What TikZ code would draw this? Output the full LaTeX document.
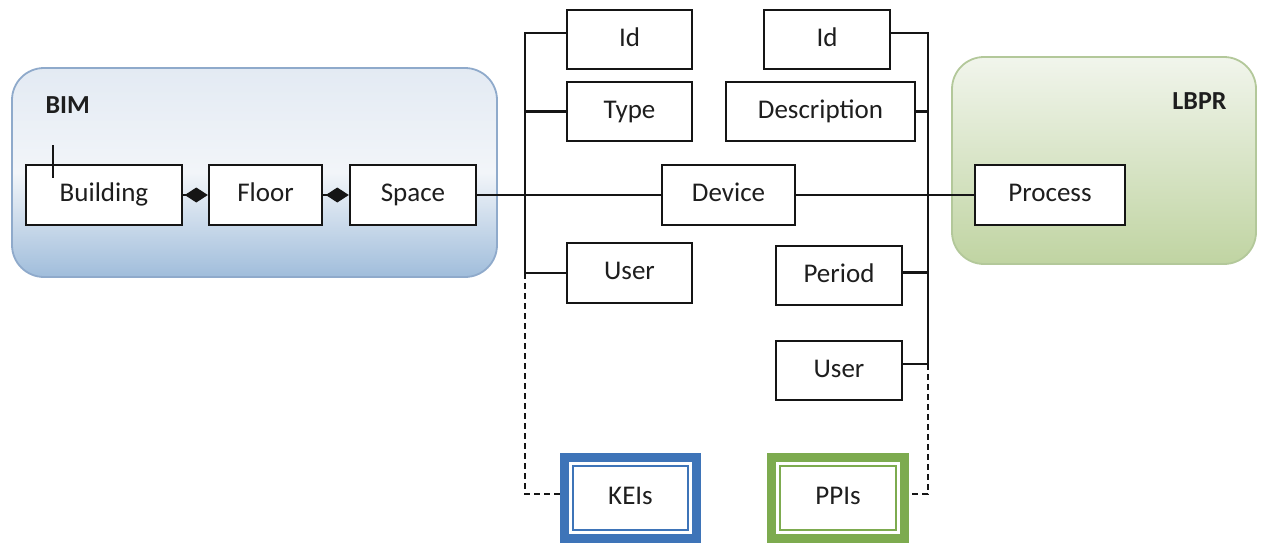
\documentclass[tikz,border=0pt]{standalone}
\usepackage{fontspec}
\setmainfont{Carlito}
\usetikzlibrary{arrows.meta,calc}
\definecolor{bimtop}{HTML}{E3EAF3}
\definecolor{bimmid}{HTML}{F2F5F9}
\definecolor{bimbot}{HTML}{A0BDDB}
\definecolor{bimedge}{HTML}{8FAACB}
\definecolor{lbtop}{HTML}{F1F5EC}
\definecolor{lbbot}{HTML}{C0D4A2}
\definecolor{lbedge}{HTML}{B3C89A}
\definecolor{keiblue}{HTML}{3E74B8}
\definecolor{ppigreen}{HTML}{7DAB4F}
\definecolor{txt}{HTML}{1E1E1E}
\definecolor{ln}{HTML}{151515}
\begin{document}
\begin{tikzpicture}[x=1pt,y=-1pt,
  box/.style={draw=ln,line width=2.4pt,fill=white,rectangle,inner sep=0pt,
    font=\fontsize{27}{30}\selectfont,text=txt,text height=18pt,text depth=5pt},
  bus/.style={draw=ln,line width=2.4pt},
  dbus/.style={draw=ln,line width=2.4pt,dash pattern=on 6pt off 4pt},
  container/.style={rounded corners=32pt,line width=1.8pt},
  lbl/.style={font=\fontsize{26}{30}\selectfont\bfseries,text=txt}]
\useasboundingbox (0,0) rectangle (1266,542);
% containers
\path[container,draw=bimedge,top color=bimtop,bottom color=bimbot,middle color=bimmid] (12,68) rectangle (497,277);
\path[container,draw=lbedge,top color=lbtop,bottom color=lbbot] (952,57) rectangle (1256,264);
\node[lbl,anchor=west] (bimlbl) at (42,105) {BIM};
\node[lbl,anchor=east] (lbprlbl) at (1230,101) {LBPR};
% BIM boxes
\node[box,minimum width=156pt,minimum height=60pt] (building) at (104,195) {Building};
\node[box,minimum width=113pt,minimum height=60pt] (floor) at (265.5,195) {Floor};
\node[box,minimum width=126pt,minimum height=60pt] (space) at (413,195) {Space};
\draw[bus,line width=2.6pt] (53,145) coordinate (tickA) -- (53,178) coordinate (tickB);
\draw[bus,{Diamond[length=23pt,width=15pt]}-] (floor.west) -- (building.east);
\draw[bus,{Diamond[length=23pt,width=15pt]}-] (space.west) -- (floor.east);
% center boxes
\node[box,minimum width=133pt,minimum height=60pt] (device) at (728.5,195) {Device};
\node[box,minimum width=150pt,minimum height=60pt] (process) at (1050,195) {Process};
\node[box,minimum width=125pt,minimum height=59pt] (idl) at (629.5,39.5) {Id};
\node[box,minimum width=125pt,minimum height=59pt] (type) at (629.5,111.5) {Type};
\node[box,minimum width=125pt,minimum height=60pt] (userl) at (629.5,273) {User};
\node[box,minimum width=126pt,minimum height=59pt] (idr) at (827,39.5) {Id};
\node[box,minimum width=189pt,minimum height=59pt] (desc) at (820.5,111.5) {Description};
\node[box,minimum width=126pt,minimum height=59pt] (period) at (839,275.5) {Period};
\node[box,minimum width=126pt,minimum height=59pt] (userr) at (839,370.5) {User};
% KEIs / PPIs
\node[box,draw=keiblue,line width=2pt,minimum width=115pt,minimum height=64pt] (kei) at (630.5,498) {KEIs};
\draw[keiblue,line width=9pt] ($(kei.north west)+(-7.5,-7.5)$) rectangle ($(kei.south east)+(7.5,7.5)$);
\node[box,draw=ppigreen,line width=2pt,minimum width=116pt,minimum height=64pt] (ppi) at (838,498) {PPIs};
\draw[ppigreen,line width=9pt] ($(ppi.north west)+(-7.5,-7.5)$) rectangle ($(ppi.south east)+(7.5,7.5)$);
% main line
\draw[bus] (space.east) -- (device.west);
\draw[bus] (device.east) -- (process.west);
% left bus
\coordinate (lbtop) at (525,33);
\coordinate (lbuser) at (525,273);
\coordinate (lbbot) at (525,494);
\draw[bus] ([yshift=6.5pt]idl.west) -- (lbtop) -- (lbuser) -- (userl.west);
\draw[bus] (type.west) -- (type.west -| lbtop);
\draw[dbus] (lbuser) -- (lbbot) -- ($(kei.west |- lbbot)+(-12,0)$);
% right bus
\coordinate (rbtop) at (928,33);
\coordinate (rbuser) at (928,364);
\coordinate (rbbot) at (928,494);
\draw[bus] ([yshift=6.5pt]idr.east) -- (rbtop) -- (rbuser) -- ([yshift=6.5pt]userr.east);
\draw[bus] (desc.east) -- (desc.east -| rbtop);
\draw[bus] ([yshift=3pt]period.east) -- ([yshift=3pt]period.east -| rbtop);
\draw[dbus] (rbuser) -- (rbbot) -- ($(ppi.east |- rbbot)+(12,0)$);
\end{tikzpicture}
\end{document}
